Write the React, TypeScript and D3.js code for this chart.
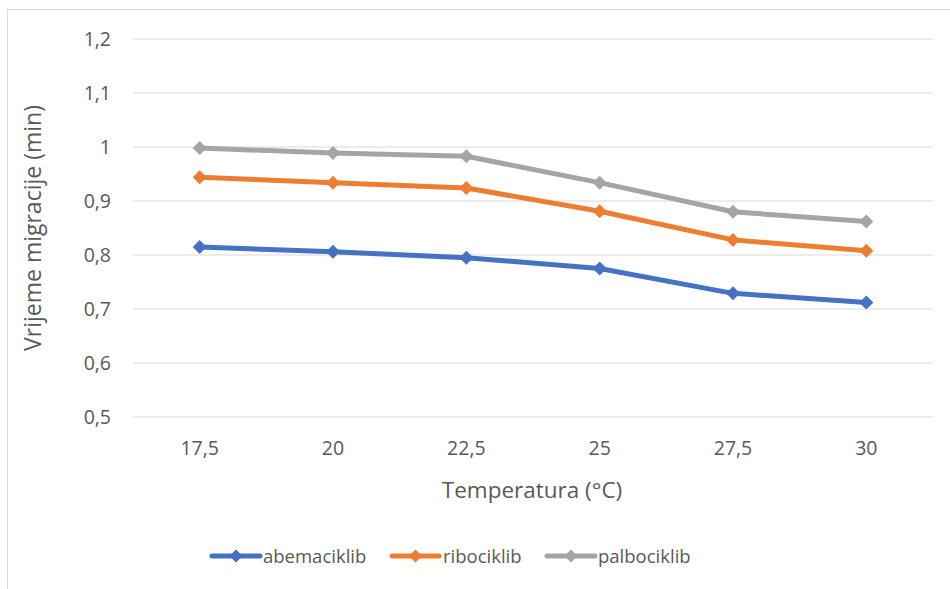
import React from "react";
import * as d3 from "d3";

const categories = ["17,5", "20", "22,5", "25", "27,5", "30"];
const abemaciklib = [0.815, 0.806, 0.795, 0.775, 0.729, 0.712];
const ribociklib = [0.944, 0.934, 0.924, 0.881, 0.828, 0.808];
const palbociklib = [0.998, 0.989, 0.983, 0.934, 0.88, 0.862];
const yTicks = [0.5, 0.6, 0.7, 0.8, 0.9, 1.0, 1.1, 1.2];
const seriesNames = ["abemaciklib", "ribociklib", "palbociklib"];
const seriesColors = ["#4472C4", "#ED7D31", "#A5A5A5"];

const W = 950;
const H = 589;
const FONT = "'Open Sans', 'Noto Sans', sans-serif";

export default function App() {
  const x = d3.scaleBand<string>().domain(categories).range([133, 933]);
  const y = d3.scaleLinear().domain([0.5, 1.2]).range([417, 39]);
  const series = [abemaciklib, ribociklib, palbociklib];
  const cx = (i: number) => (x(categories[i]) as number) + x.bandwidth() / 2;
  const line = d3
    .line<number>()
    .x((_, i) => cx(i))
    .y((d) => y(d));
  const fmt = (v: number) => {
    const r = Math.round(v * 10) / 10;
    const s = Math.abs(r - Math.round(r)) < 1e-9 ? String(Math.round(r)) : r.toFixed(1);
    return s.replace(".", ",");
  };
  const diamond = (px: number, py: number, r: number) =>
    `M${px},${py - r}L${px + r},${py}L${px},${py + r}L${px - r},${py}Z`;

  const legendItems = [
    { x1: 212, x2: 260, tx: 263 },
    { x1: 392, x2: 439, tx: 443 },
    { x1: 547, x2: 595, tx: 598 },
  ];

  return (
    <svg
      width={W}
      height={H}
      style={{ position: "absolute", left: 0, top: 0, background: "#fff" }}
      fontFamily={FONT}
    >
      <rect x={7.5} y={9.5} width={W + 10} height={H + 10} fill="#fff" stroke="#D9D9D9" strokeWidth={1} />
      {yTicks.map((t) => (
        <g key={t}>
          <line x1={133} x2={933} y1={y(t)} y2={y(t)} stroke="#D9D9D9" strokeWidth={1} />
          <text x={111} y={y(t)} dy="0.36em" textAnchor="end" fontSize={19.5} fill="#595959">
            {fmt(t)}
          </text>
        </g>
      ))}
      {categories.map((c, i) => (
        <text key={c} x={cx(i)} y={447.5} dy="0.36em" textAnchor="middle" fontSize={19.5} fill="#595959">
          {c}
        </text>
      ))}
      <text x={532} y={490} dy="0.36em" textAnchor="middle" fontSize={22.5} fill="#595959">
        Temperatura (°C)
      </text>
      <text
        transform="translate(33,228) rotate(-90)"
        dy="0.36em"
        textAnchor="middle"
        fontSize={23}
        fill="#595959"
      >
        Vrijeme migracije (min)
      </text>
      {series.map((s, si) => (
        <g key={si}>
          <path
            d={line(s) || ""}
            fill="none"
            stroke={seriesColors[si]}
            strokeWidth={5}
            strokeLinejoin="round"
            strokeLinecap="round"
          />
          {s.map((v, i) => (
            <path key={i} d={diamond(cx(i), y(v), 7)} fill={seriesColors[si]} />
          ))}
        </g>
      ))}
      {legendItems.map((li, i) => (
        <g key={i}>
          <line x1={li.x1} x2={li.x2} y1={556} y2={556} stroke={seriesColors[i]} strokeWidth={5} strokeLinecap="round" />
          <path d={diamond((li.x1 + li.x2) / 2, 556, 6.5)} fill={seriesColors[i]} />
          <text x={li.tx} y={556} dy="0.36em" fontSize={18.5} fill="#595959">
            {seriesNames[i]}
          </text>
        </g>
      ))}
    </svg>
  );
}
